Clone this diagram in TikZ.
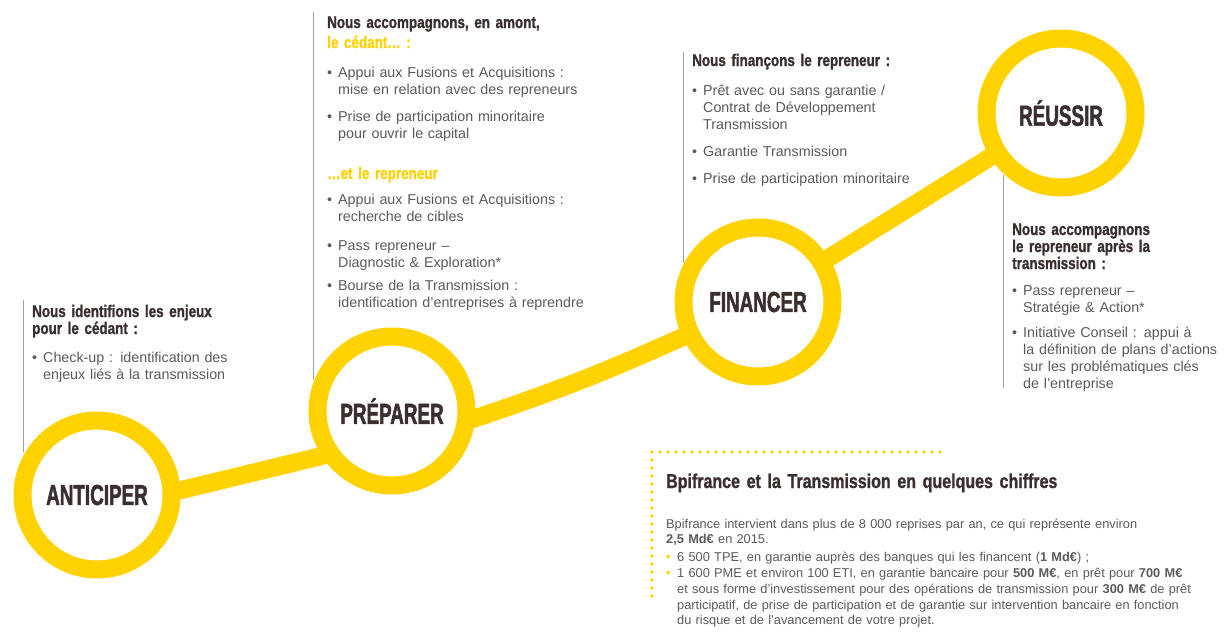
\documentclass[tikz,border=0pt]{standalone}
\usepackage{fontspec}
\setmainfont{Liberation Sans}
\newfontfamily\headfont[FakeStretch=0.8, FakeBold=1.2]{Liberation Sans Bold}
\newfontfamily\stepfont[FakeStretch=0.65, FakeBold=1.6]{Liberation Sans Bold}
\usepackage{tikz}

\definecolor{bpiyellow}{RGB}{255,210,0}
\definecolor{bpidark}{RGB}{58,46,46}
\definecolor{bpigray}{RGB}{90,90,90}
\definecolor{rulegray}{RGB}{160,160,160}

\newcommand{\bul}{\makebox[11pt][l]{\textbullet}}
\newcommand{\ybul}{\makebox[11pt][l]{\textcolor{bpiyellow}{\textbullet}}}
\newcommand{\ind}{\hspace*{11pt}}

\begin{document}
\begin{tikzpicture}[x = 1pt, y = 1pt,
                    stepnode/.style = {circle, draw = bpiyellow, line width = 18pt, fill = white,
                                       minimum size = 149pt, inner sep = 0pt, outer sep = 0pt,
                                       text = bpidark, font = \stepfont\fontsize{29}{29}\selectfont},
                    link/.style = {draw = bpiyellow, line width = 18pt},
                    head/.style = {anchor = base west, inner sep = 0pt, text width = 320pt, align = left,
                                   text = bpidark, font = \headfont\fontsize{16.8}{17}\selectfont},
                    body/.style = {anchor = base west, inner sep = 0pt, text width = 320pt, align = left,
                                   text = bpigray, font = \fontsize{14.3}{17}\selectfont},
                    vrule/.style = {draw = rulegray, line width = 0.8pt},
                    dotrule/.style = {draw = bpiyellow, line width = 3.6pt, line cap = round,
                                      dash pattern = on 0pt off 8pt}]
  \useasboundingbox (0, 0) rectangle (1226, -635);

  \node [stepnode] (ant)  at (97, -495)   {ANTICIPER};
  \node [stepnode] (prep) at (392, -411)  {PRÉPARER};
  \node [stepnode] (fin)  at (758, -302)  {FINANCER};
  \node [stepnode] (reu)  at (1061, -113) {RÉUSSIR};

  \draw [link] (ant.2) -- (prep.215);
  \draw [link] (prep.-8) to [bend right=3] (fin.205);
  \draw [link] (fin) -- (reu);

  % anticiper
  \draw [vrule] (23, -300) -- (23, -452);
  \node [head] (headant) at (32, -317) {Nous identifions les enjeux\\pour le cédant :};
  \node [body] (listant) at (32, -362) {\bul Check-up : identification des\\\ind enjeux liés à la transmission};

  % preparer
  \draw [vrule] (313, -12) -- (313, -380);
  \node [head] (headprep) at (327, -28) {Nous accompagnons, en amont,\\[3pt]\textcolor{bpiyellow}{le cédant… :}};
  \node [body] (listprep) at (327, -77) {\bul Appui aux Fusions et Acquisitions :\\\ind mise en relation avec des repreneurs\\[10pt]\bul Prise de participation minoritaire\\\ind pour ouvrir le capital};
  \node [head, text = bpiyellow] (headrep) at (327, -179) {…et le repreneur};
  \node [body] (listrep) at (327, -204) {\bul Appui aux Fusions et Acquisitions :\\\ind recherche de cibles\\[12pt]\bul Pass repreneur –\\\ind Diagnostic \& Exploration*\\[6pt]\bul Bourse de la Transmission :\\\ind identification d’entreprises à reprendre};

  % financer
  \draw [vrule] (683, -52) -- (683, -263);
  \node [head] (headfin) at (692, -66) {Nous finançons le repreneur :};
  \node [body] (listfin) at (692, -95) {\bul Prêt avec ou sans garantie /\\\ind Contrat de Développement\\\ind Transmission\\[10pt]\bul Garantie Transmission\\[10pt]\bul Prise de participation minoritaire};

  % reussir
  \draw [vrule] (1003, -175) -- (1003, -388);
  \node [head] (headreu) at (1012, -235) {Nous accompagnons\\le repreneur après la\\transmission :};
  \node [body] (listreu) at (1012, -295) {\bul Pass repreneur –\\\ind Stratégie \& Action*\\[8pt]\bul Initiative Conseil : appui à\\\ind la définition de plans d’actions\\\ind sur les problématiques clés\\\ind de l’entreprise};

  % chiffres
  \draw [dotrule] (940, -452) -- (652, -452) -- (652, -597);
  \node [head, text width = 500pt, font = \headfont\fontsize{20}{22}\selectfont] (headfig) at (666, -488) {Bpifrance et la Transmission en quelques chiffres};
  \node [body, text width = 560pt, font = \fontsize{12.8}{15.8}\selectfont] (listfig) at (666, -528) {Bpifrance intervient dans plus de 8~000 reprises par an, ce qui représente environ\\\textbf{2,5 Md€} en 2015.\\[2pt]\ybul 6~500 TPE, en garantie auprès des banques qui les financent (\textbf{1 Md€}) ;\\\ybul 1~600 PME et environ 100 ETI, en garantie bancaire pour \textbf{500 M€}, en prêt pour \textbf{700 M€}\\\ind et sous forme d’investissement pour des opérations de transmission pour \textbf{300 M€} de prêt\\\ind participatif, de prise de participation et de garantie sur intervention bancaire en fonction\\\ind du risque et de l’avancement de votre projet.};
\end{tikzpicture}
\end{document}
